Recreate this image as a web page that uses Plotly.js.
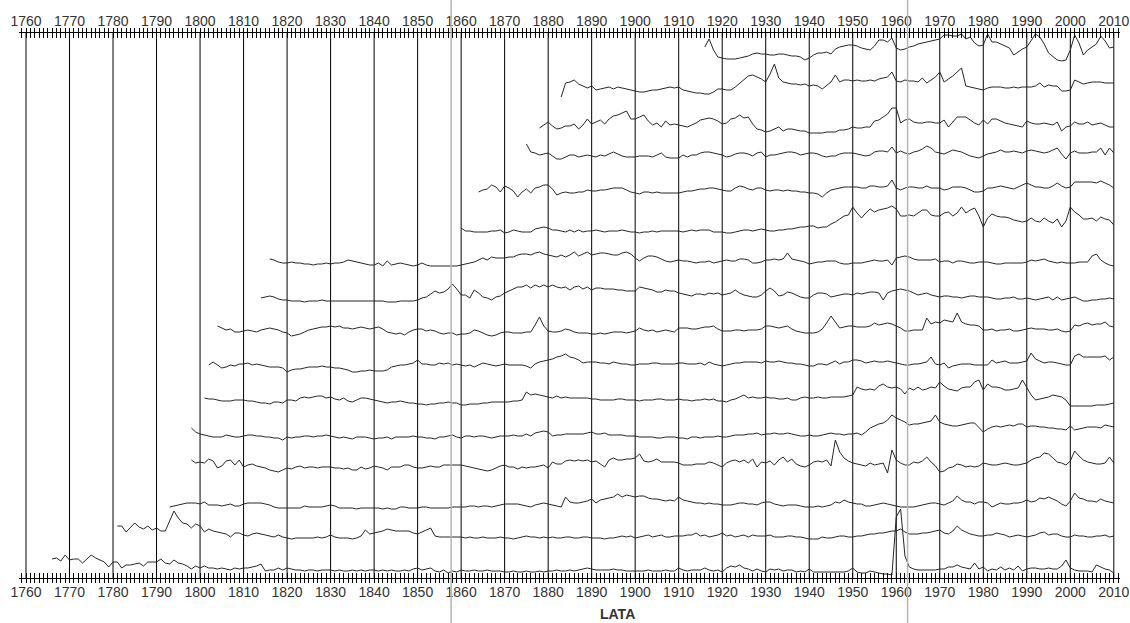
<!DOCTYPE html>
<html><head><meta charset="utf-8">
<script src="https://cdn.plot.ly/plotly-3.0.1.min.js"></script>
<style>html,body{margin:0;padding:0;background:#fff}#chart{width:1130px;height:623px}</style>
</head><body><div id="chart"></div>
<script>
// ---- tick / axis data ----
const firstDecade = 1760;
const lastDecade = 2010;
const decadeStep = 10;
const yearStep = 1;
const markerYears = [1857.7, 1962.6];
const axisTitle = 'LATA';

// ---- series (first year + yearly values, stacked with offsets) ----
const startA = 1916;
const seriesA = [8,16,5,-2,-3,-4,-4,-4,-3,-2, -1,1,2,1,1,0,0,1,1,0, -1,-1,-2,-5,-3,0,2,2,3,1, 6,8,9,10,10,9,7,6,5,9, 15,15,13,17,7,5,6,8,9,11, 12,13,14,15,16,20,20,19,19,21, 16,18,12,9,10,21,13,13,11,9, 7,0,3,6,8,14,21,18,11,2, -2,-5,-6,-5,5,20,12,0,5,8, 11,19,14,7,8];
const startB = 1883;
const seriesB = [-9,5,6,8,4,2,0,2,-2,-1, 0,1,-1,1,0,-1,-2,-3,-4,-4, -3,-2,-2,-1,0,1,0,1,-2,-3, -4,-5,-5,-6,-6,-4,-1,-1,-2,-2, 1,5,8,12, 13,11,9,6,14,24,10,6,5,4, 4,3,4,2,3,2,-1,3,6,13, 6,8,8,7,8,7,7,8,7,9, 10,11,16,7,6,8,7,7,6,10, 5,8,11,16,6,9,12,16,20,2, 1,0,-1,-2,0,1,1,1,0,0, 1,0,1,1,1,2,5,1,3,2, 2,-3,-3,-2,8,6,4,5,6,6, 6,5,5,5];
const startC = 1878;
const seriesC = [2,5,8,4,1,2,4,4,6,1, 5,11,6,8,10,6,11,14,15,17, 19,11,11,13,15,9,5,7,3,9, 5,6,5,4,3,5,7,10,11, 12,11,9,6,7,11,12,15,12,13, 6,1,0,-2,-1,1,3,-1,1,1, 0,-1,-1,-3,-3,-3,-3,-2,-2,-2, 0,0,1,3,2,2,3,3,9,10, 13,16,22,22,7,10,11,8,7,7, 8,8,7,7,10,3,8,13,13,13, 10,7,5,10,6,11,11,9,7,6, 5,4,3,9,7,6,6,7,6,5, 8,-1,3,4,8,6,6,8,5,6, 7,5,3,3];
const startD = 1875;
const seriesD = [13,5,4,2,3,4,1,-2,-2,0, 2,2,0,1,2,1,0,2,1,3, 5,3,1,0,0,0,1,1,1,0, 2,4,0,-1,-1,-1,2,0,2,2, 4,5, 5,4,3,2,0,1,3,4,4,3, 1,4,5,0,2,2,3,4,5,5, 4,2,3,4,4,3,1,0,1,1, 3,4,4,4,3,2,1,2,5,6, 6,5,10,4,6,4,3,5,6,8, 11,9,5,4,3,5,7,6,5,3, 1,0,-1,1,3,4,5,7,5,5, 6,5,4,6,7,6,5,4,5,7, 9,3,-2,4,6,4,4,4,5,5, 9,2,9,4];
const startE = 1864;
const seriesE = [0,2,3,7,5,0,6,4,1,-5, 0,3,-1,4,5,7,7,3,-3,-1, 0,-1,-1,0,0,2,1,1,2,2, 3,4,4,4,2,0,-1,-2,0,0, -1,0,-1,-1,-1,-1,-1,0,1,1, 2,3,3, 4,4,3,2,1,1,4,6,5,3, 2,4,4,2,1,2,2,1,2,1, 1,0,0,-1,-1,-2,-5,-1,2,3, 4,5,5,5,5,4,4,6,6,5, 5,6,12,4,2,4,5,5,4,4, 6,4,4,4,2,3,5,5,5,4, 2,0,0,1,4,4,5,6,5,4, 3,5,7,9,7,5,5,4,4,6, 9,6,4,5,10,10,10,10,10,9, 11,9,7,4];
const startF = 1860;
const seriesF = [5,2,2,1,1,1,1,2,2,3, 0,1,3,2,1,1,1,4,5,6, 5,3,3,2,1,3,1,3,1,2, 2,3,2,1,2,2,2,3,2,1, 1,0,1,1,2,1,2,2,2,2, 2,1,2,3,2,3,3, 3,1,1,1,0,0,1,2,3,3, 2,3,4,3,2,2,3,3,4,4, 5,6,6,7,7,5,6,6,9,11, 14,17,18,26,20,15,20,24,21,23, 24,25,27,24,17,17,18,17,20,23, 23,18,17,17,20,21,17,20,26,20, 23,25,17,6,15,19,17,16,16,15, 13,12,11,12,15,12,11,15,12,10, 14,6,12,26,21,18,14,14,15,12, 16,14,13,8];
const startG = 1816;
const seriesG = [5,4,2,1,1,2,1,1,0,0, -1,0,0,1,0,1,1,2,4,3, 2,1,0,-1,-1,1,-2,3,-1,0, 1,0,-1,-2,-1,1,-1,-2,-2,-2, -2,-2,-2,-2,-1, 0,1,2,4,6,4,7,6,6,6, 7,7,9,10,10,9,11,12,10,9, 8,7,9,7,9,12,8,10,12,9, 10,11,11,10,9,9,11,12,10,6, 3,6,8,8,7,5,3,2,3,4, 3,3,2,1,2,2, 3,1,2,3,4,3,3,5,5,4, 1,1,2,4,4,5,4,5,11,5, 4,3,2,0,1,2,2,3,3,3, 1,0,0,1,1,1,2,3,4,3, 3,4,-1,6,7,8,7,5,4,4, 4,4,5,2,3,3,1,3,3,2, 1,1,2,2,2,1,0,0,1,1, 1,1,1,2,4,3,4,5,3,2, 1,2,1,1,1,2,2,2,8,10, 4,1,-1,-2];
const startH = 1814;
const seriesH = [3,4,5,4,2,1,1,0,0,0, -1,0,0,0,1,0,0,0,0,0, 0,0,0,0,0,0,0,0,0,-1, -1,-1,0,0,0,0,1,3,4,7, 10,8,9,12,17,12,6, 6,3,11,8,4,3,1,4,5,8, 10,12,14,14,16,13,16,14,16,14, 16,14,13,14,11,14,15,12,14,11, 13,13,12,12,12,11,11,10,10,10, 14,13,12,11,9,9,11,10,10,8, 7,6,5,7,7,6, 8,7,8,6,7,8,11,8,6,5, 4,4,6,10,13,10,5,6,9,8, 6,4,3,3,6,8,8,7,4,5, 6,7,7,6,8,7,8,9,9,8, 1,8,10,11,12,11,10,8,6,7, 8,6,5,4,5,5,4,4,3,4, 5,5,4,4,4,3,2,2,3,3, 4,2,2,3,2,1,2,3,4,1, 4,1,2,3,4,2,0,0,1,1, 2,2,3,2];
const startI = 1804;
const seriesI = [6,4,2,3,0,0,1,2,1,0, 2,3,4,3,2,0,-1,-4,-3,-2, 0,2,3,4,5,5,6,5,6,4, 4,3,4,5,4,3,4,5,3,0, -1,-2,-1,-3,0,2,3,3,1,2, 1,-1,-2,-1,-1,-3,-2, -2,-1,2,1,-1,-3,-4,-3,-1,0, 0,-1,-1,-1,0,0,7,15,6,1, 0,0,1,3,2,0,-1,-1,-1,-2, -2,-1,-2,-1,0,0,0,-1,0,1, 4,2,1,2,0,1,2,1,0,4, 4,4,3,3,4,5, 5,6,3,1,1,1,2,2,1,2, 2,2,3,6,6,5,4,5,6,3, 1,0,-1,-1,-1,0,3,9,16,10, 4,5,6,6,5,5,5,6,9,7, 8,9,8,6,4,1,1,2,2,2, 14,8,10,9,12,11,10,19,10,8, 7,7,6,2,2,3,1,2,2,3, 1,1,2,3,4,3,3,3,2,2, 3,1,0,1,7,6,8,9,7,8, 8,10,6,5];
const startJ = 1802;
const seriesJ = [3,6,3,0,1,3,2,4,4,5, 3,4,3,2,1,1,1,0,-4,-2, -1,-1,0,1,1,1,2,1,1,0, 0,-1,-2,-4,-4,-3,-3,-2,-3,-3, -3,-2,1,2,3,3,4,5,8,4, 4,3,3,5,4,5,3,4,3,2, 3,1,3,5,4,3,2,3,4,3, 3,3,3,2,0, 4,6,7,8,9,11,12,14,11,10, 8,5,6,6,6,5,5,4,6,5, 4,4,3,3,4,4,4,5,5,4, 4,4,4,5,5,4,4,4,5,3, 6,4,3,2,3,4,5,5,6,6, 6,6,5,7,6,6,7,6,5,5, 4,4,3,2,2,4,4,3,5,7, 4,6,6,8,8,7,5,6,7,6, 6,7,6,5,4,3,3,4,4,5, 6,11,4,3,5,0,2,3,4,4, 4,3,3,3,3,8,5,6,7,5, 5,5,6,7,15,9,7,5,6,6, 5,4,3,3,12,14,11,11,11,11, 11,12,8,11];
const startK = 1801;
const seriesK = [5,4,4,3,2,2,2,3,3,3, 2,2,1,0,0,-1,1,1,0,3, 3,2,5,6,5,6,7,7,5,6, 4,3,5,2,1,3,5,5,4,3, 2,1,0,1,1,2,1,0,0,-1, -1,-2,-1,-1,0,0,1,0,0,-2, -2,-1,-1,-1,0,0,1,1,1,1, 1,2,2,3,11,8,9,8,7,6, 5,7,5,6,5,5,5,5,5,4, 4,3,3,3,3,4,4,3,3,3, 2,3,3,3,4,4,3,3,3,4, 3,3,2,3,3,4, 3,4,2,2,1,3,4,6,8,5, 6,5,5,6,5,5,4,4,5,3, 3,5,6,5,5,6,5,5,6,6, 6,6,7,8,16,14,13,14,13,17, 19,16,15,16,14,9,15,13,16,13, 14,16,15,21,17,14,13,12,15,16, 16,21,23,13,19,16,16,15,13,13, 14,15,23,16,8,3,4,5,6,8, 7,6,3,-3,-3,-3,-3,-3,-3,-2, -2,-2,-1,0];
const startL = 1798;
const seriesL = [8,4,2,1,0,-1,-1,-1,1,0, -1,-1,0,1,1,0,0,-1,-1,-2, -2,-4,-1,-2,-1,-1,0,0,-1,0, 0,1,0,-1,-2,-1,-2,-3,-1,-1, -1,-2,-3,-2,-2,-1,-3,-1,-1,-1, -1,0,-1,-1,-2,-2,-3,-1,-1,0, 1,-1,-2,0,0,-1,0,0,-1,-2, -1,0,0,0,1,0,0,2,0, 3,4,5,4,0,1,1,2,2,2, 2,2,3,4,2,2,3,1,1,1, 1,0,0,0,-1,-1,-1,-1,-2,-2, -1,-1,-1,-2,-2,-3,-1,-1,-2,-1, -1,-1,0,-1,-1,0,1,1,1,2, 2,3,1,2,2,3,2,2,3,2, 1,0,0,1,0,0,1,2,3,2, 2,1,2,2,3,1,4,8,10,12, 13,16,21,18,16,14,11,12,12,13, 14,15,21,14,12,11,10,10,11,12, 13,13,8,4,7,9,10,9,10,11, 10,12,12,9,10,10,9,9,8,8, 7,7,6,10,6,7,8,9,9,9, 8,11,10,9];
const startM = 1798;
const seriesM = [7,4,5,4,8,6,-1,1,6,7, 2,7,0,2,3,1,0,-1,-3,-4, -5,-3,-1,-2,0,1,-1,0,0,-1, 0,0,0,-1,-1,-2,-1,-3,-3,0, -2,-1,1,0,-1,-3,0,0,0,2, 2,0,-1,-1,0,1,0,0,2,2, 2,2, 2,1,0,-1,-2,-3,-4,-3,-1,1, 2,0,0,-2,0,-1,0,0,1,2, -1,5,3,3,6,7,6,7,6,7, 5,6,3,0,7,9,7,7,8,8, 9,13,6,5,6,8,5,5,5,5, 4,2,2,2,3,3,3,5, 4,2,0,4,6,7,5,7,4,8, 0,5,4,6,2,7,10,5,8,3, 1,0,2,5,6,5,7,1,27,15, 9,6,4,3,2,1,4,2,3,4, -6,17,7,4,2,2,5,4,6,10, 5,1,-5,-4,-1,0,3,2,0,1, 0,1,4,3,2,2,3,4,3,2, 2,3,4,7,9,10,14,13,9,5, 4,2,6,16,11,7,5,4,3,3, 4,10,4];
const startN = 1793;
const seriesN = [1,2,3,4,5,5,5,4,6,3, 3,3,2,3,4,2,2,4,5,5, 5,5,4,3,1,0,0,0,0,0, 0,2,1,1,1,1,2,3,2,0, 0,0,0,-1,0,0,0,0,0,-1, 0,-1,-1,1,1,0,0,0,1,1, 0,0,0,0,0,1,1,1,1,2, 2,1,2,2,1,2,3,4,4,4, 4,3,2,1,3,4,5,4,3,2, 1,11,6,5,5,6,7,9,5,8, 9,10,11,14,11,13,12,11,12,12, 10,9,9,8,7,8,7,11,8,7, 6,5,5,4,5,4,4,3,3,3, 4,5,5,4, 4,3,5,6,6,4,3,2,3,3, 3,2,1,1,1,2,1,2,3,6, 5,8,6,5,4,4,2,2,3,4, 5,4,3,2,1,1,1,1,2,3, 4,5,5,4,3,5,7,12,8,6, 6,4,6,6,5,1,3,5,4,4, 5,5,6,8,6,7,10,9,11,9, 7,4,2,7,15,10,9,7,7,6, 9,7,6,5];
const startO = 1781;
const seriesO = [10,10,4,8,13,9,7,10,6,8, 5,5,16,25,18,13,12,8,12,10, 4,7,5,4,3,2,-1,3,3,1, 0,2,3,2,1,0,-1,1,-1,-2, -3,-2,-2,-2,-2,-2,-1,-2,-1,1, -1,-2,-2,-2,-3,-2,0,6,2,3, 4,5,7,6,5,5,5,5,3,2, 4,6,8,0,-1,-1,-1,-1,-1,-1, -2,-1,-2,-2,-1,-2,-2,-2,-1,-2, -2,-3,-2,-1,0,-1,-1,-2,-1,-2, -1,-2,-2,-1,-1,-2,-2,-1,-1,-2, -2,-2,-3,-2,-2,-1,0,-1,0,-2, -1,0,1,-1,0,1,-1,-1,0,0, 0,1,1,3,0,1,-1,0,1,3, 0,1,-1,0,1,-1,1, 0,0,0,1,-1,-1,-1,0,0,-1, -1,-2,-3,-3,-3,-1,-2,-2,-1,0, 0,-1,-1,0,0,1,2,2,3,3, 4,5,5,7,4,2,2,2,3,3, 4,5,6,3,2,5,10,6,4,2, 1,0,0,1,1,3,2,1,-1,0, 1,0,-1,0,1,3,4,1,2,2, 0,-1,-1,1,0,0,-1,-1,0,0, 1,-1,0];
const startP = 1766;
const seriesP = [12,13,10,16,11,12,12,8,12,16, 13,11,9,4,9,9,3,6,6,7, 8,5,9,9,9,12,8,7,11,8, 7,5,2,5,3,5,3,3,2,3, 2,1,3,2,3,3,4,5,7,0, 1,1,3,1,3, 2,1,1,0,1,1,0,1,1,1, 0,1,0,0,1,0,1,0,1,1, 0,1,0,1,0,0,1,0,2,3, 1,2,3,0,-1,1,-2,0,-1,1, 0,0,1,0,0,1,0,0,0,-1, -1,0,-1,-1,0,-1,-1,0,-1,0, 0,1,0,0,1,0,1,2,3,2, 1,1,1,1,2,1,1,0,0,0, 0,0,1,0,0,0,1,0,0,3, 1,0,1,1,1,3,1,0,1,-1, 3,5,4,6,3, 2,0,2,0,-1,2,1,2,0,1, 1,-1,0,-1,2,-1,-1,-1,-1,-1, -1,-1,-1,0,3,-1,-2,-2,0,-1, -2,-3,-3,-4,54,62,15,4,2,1, 1,1,1,1,2,2,4,4,6,4, 3,2,8,2,4,0,2,1,4,1, 3,1,5,0,2,3,3,2,2,3, 2,2,5,11,3,1,0,0,0,-1, 6,4,2,1,-2];

// stacking offset of each series (top to bottom)
const seriesStarts = [startA,startB,startC,startD,startE,startF,startG,startH,startI,startJ,startK,startL,startM,startN,startO,startP];
const seriesValues = [seriesA,seriesB,seriesC,seriesD,seriesE,seriesF,seriesG,seriesH,seriesI,seriesJ,seriesK,seriesL,seriesM,seriesN,seriesO,seriesP];
const seriesOffsets = [523,490,448,421,386,345,314,277,246,210,175,142,111,70,42,7];

// ---- build ----
const X0 = 1758.39, X1 = 2011.42;
const FONT = 'Liberation Sans, Arial, sans-serif';
const traces = [];
seriesValues.forEach((vals, k) => {
  traces.push({
    type: 'scatter', mode: 'lines',
    x: vals.map((v, i) => seriesStarts[k] + i),
    y: vals.map(v => seriesOffsets[k] + v),
    line: {color: '#262626', width: 1},
    hoverinfo: 'skip', showlegend: false
  });
});
['x2','x3','x4','x5','x6'].forEach(ax => traces.push({type:'scatter', mode:'lines', x:[null], y:[null], xaxis: ax, yaxis:'y', hoverinfo:'skip', showlegend:false}));

function xa(extra, tickType, tickLen) {
  const o = {
    range: [X0, X1], tickmode: 'linear', tick0: firstDecade, dtick: decadeStep,
    showgrid: false, zeroline: false, showline: true, linecolor: '#000', linewidth: 1,
    ticks: tickType, tickcolor: '#000', tickwidth: 1, ticklen: tickLen, fixedrange: true,
    showticklabels: false, ticklabeloverflow: 'allow',
    tickfont: {family: FONT, size: 14, color: '#333'}
  };
  if (tickType) o.minor = {tickmode: 'linear', tick0: firstDecade, dtick: yearStep, ticks: tickType, ticklen: tickLen, tickcolor: '#000', tickwidth: 1, showgrid: false};
  return Object.assign(o, extra);
}

// decade grid lines (vertical, across the plot) and the two grey marker lines
const shapes = [];
for (let yr = firstDecade; yr <= lastDecade; yr += decadeStep) {
  shapes.push({type: 'line', xref: 'x', yref: 'paper', x0: yr, x1: yr, y0: 0, y1: 1, layer: 'below', line: {color: '#000', width: 1}});
}
markerYears.forEach(yr => {
  const px = (yr - X0) / (X1 - X0);
  shapes.push({type: 'line', xref: 'paper', yref: 'paper', x0: px, x1: px, y0: -0.1, y1: 1.1, layer: 'above', line: {color: '#b4b4b4', width: 1.5}});
});

const layout = {
  width: 1130, height: 623,
  margin: {l: 19, r: 10, t: 33, b: 45, pad: 0},
  paper_bgcolor: '#fff', plot_bgcolor: '#fff',
  showlegend: false,
  xaxis: xa({side: 'bottom', anchor: 'y', showticklabels: true, ticklabelstandoff: 1}, '', 0),
  xaxis2: xa({overlaying: 'x', side: 'top', anchor: 'y', showticklabels: true}, '', 0),
  xaxis3: xa({overlaying: 'x', side: 'bottom', anchor: 'y'}, 'inside', 5),
  xaxis4: xa({overlaying: 'x', side: 'top', anchor: 'y'}, 'inside', 5),
  xaxis5: xa({overlaying: 'x', side: 'bottom', anchor: 'y'}, 'outside', 4),
  xaxis6: xa({overlaying: 'x', side: 'top', anchor: 'y'}, 'outside', 4),
  yaxis: {range: [0, 545], visible: false, fixedrange: true},
  shapes: shapes,
  annotations: [{text: '<b>' + axisTitle + '</b>', xref: 'paper', yref: 'paper', x: (617 - 19) / 1101, y: (578 - 614) / 545, xanchor: 'center', yanchor: 'middle', showarrow: false, font: {family: 'Liberation Sans, Arial, sans-serif', size: 14, color: '#333'}}]
};

Plotly.newPlot('chart', traces, layout, {displayModeBar: false, staticPlot: true});
</script>
</body></html>
